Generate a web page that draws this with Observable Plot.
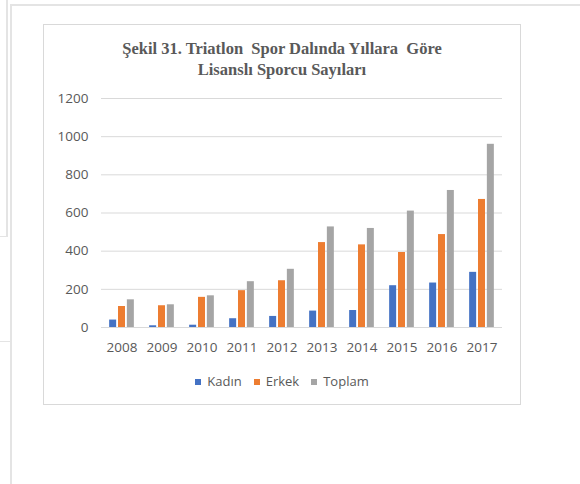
<!DOCTYPE html>
<html>
<head>
<meta charset="utf-8">
<script src="https://cdn.jsdelivr.net/npm/d3@7"></script>
<script src="https://cdn.jsdelivr.net/npm/@observablehq/plot@0.6"></script>
<style>
  html, body { margin: 0; padding: 0; background: #fff; }
  body { width: 580px; height: 484px; position: relative; overflow: hidden; }
  .ln { position: absolute; background: #e4e4e4; }
  #box { position: absolute; left: 43px; top: 24px; width: 476px; height: 379px; border: 1px solid #d9d9d9; box-sizing: content-box; }
  #title { position: absolute; left: 43px; width: 478px; top: 38px; text-align: center;
    font-family: "Liberation Serif", "Times New Roman", serif; font-weight: bold; font-size: 16.5px;
    line-height: 21px; color: #595959; white-space: pre; }
  #chart { position: absolute; left: 44px; top: 85px; }
  #legend { position: absolute; left: 43px; width: 478px; top: 373px; text-align: center;
    font-family: "Open Sans", sans-serif; font-size: 13px; line-height: 16px; color: #595959; }
  #legend span.item { display: inline-block; margin: 0 6px; }
  #legend span.sw { display: inline-block; width: 6px; height: 6px; margin-right: 6px; vertical-align: 1px; }
</style>
</head>
<body>
<div class="ln" style="left:6px;top:0;width:2px;height:237px"></div>
<div class="ln" style="left:0;top:236px;width:8px;height:1px"></div>
<div class="ln" style="left:10px;top:4px;width:570px;height:2px"></div>
<div class="ln" style="left:10px;top:4px;width:2px;height:480px"></div>
<div class="ln" style="left:0;top:341px;width:11px;height:1px"></div>

<div id="box"></div>
<div id="title">Şekil 31. Triatlon  Spor Dalında Yıllara  Göre
Lisanslı Sporcu Sayıları</div>
<div id="chart"></div>
<div id="legend"></div>

<script>
const years  = ["2008","2009","2010","2011","2012","2013","2014","2015","2016","2017"];
const kadin  = [39, 9, 12, 46, 58, 86, 89, 219, 233, 289];
const erkek  = [110, 114, 158, 193, 245, 445, 433, 393, 487, 671];
const toplam = [145, 119, 166, 240, 305, 527, 519, 610, 718, 960];
const seriesNames  = ["Kadın", "Erkek", "Toplam"];
const seriesColors = ["#4472C4", "#ED7D31", "#A5A5A5"];
const yTicks = [0, 200, 400, 600, 800, 1000, 1200];

const seriesValues = [kadin, erkek, toplam];
const tables = seriesValues.map((vals, s) => years.map((y, i) => ({year: y, value: vals[i], series: seriesNames[s]})));
const offsets = [-8.85, 0, 8.85];

const plot = Plot.plot({
  width: 470,
  height: 280,
  marginLeft: 57,
  marginRight: 12,
  marginTop: 13,
  marginBottom: 38,
  style: { fontFamily: "'Open Sans', sans-serif", fontSize: "13.5px", color: "#595959", background: "transparent", overflow: "visible" },
  x: { domain: years, paddingInner: 0.825, paddingOuter: 0.4125, label: null, tickSize: 0, tickPadding: 15 },
  y: { domain: [0, 1200], ticks: yTicks, label: null, tickSize: 0, tickPadding: 13 },
  marks: [
    Plot.gridY(yTicks, { stroke: "#d9d9d9", strokeOpacity: 1, strokeWidth: 1 }),
    ...tables.map((t, s) => Plot.barY(t, { x: "year", y: "value", fill: seriesColors[s], dx: offsets[s] })),
    Plot.axisX({ tickSize: 0, tickPadding: 15, label: null }),
    Plot.axisY(yTicks, { tickSize: 0, tickPadding: 13, label: null, tickFormat: d => String(d) })
  ]
});
document.getElementById("chart").appendChild(plot);

const legend = document.getElementById("legend");
seriesNames.forEach((name, i) => {
  const item = document.createElement("span");
  item.className = "item";
  const sw = document.createElement("span");
  sw.className = "sw";
  sw.style.background = seriesColors[i];
  item.appendChild(sw);
  item.appendChild(document.createTextNode(name));
  legend.appendChild(item);
});
</script>
</body>
</html>
